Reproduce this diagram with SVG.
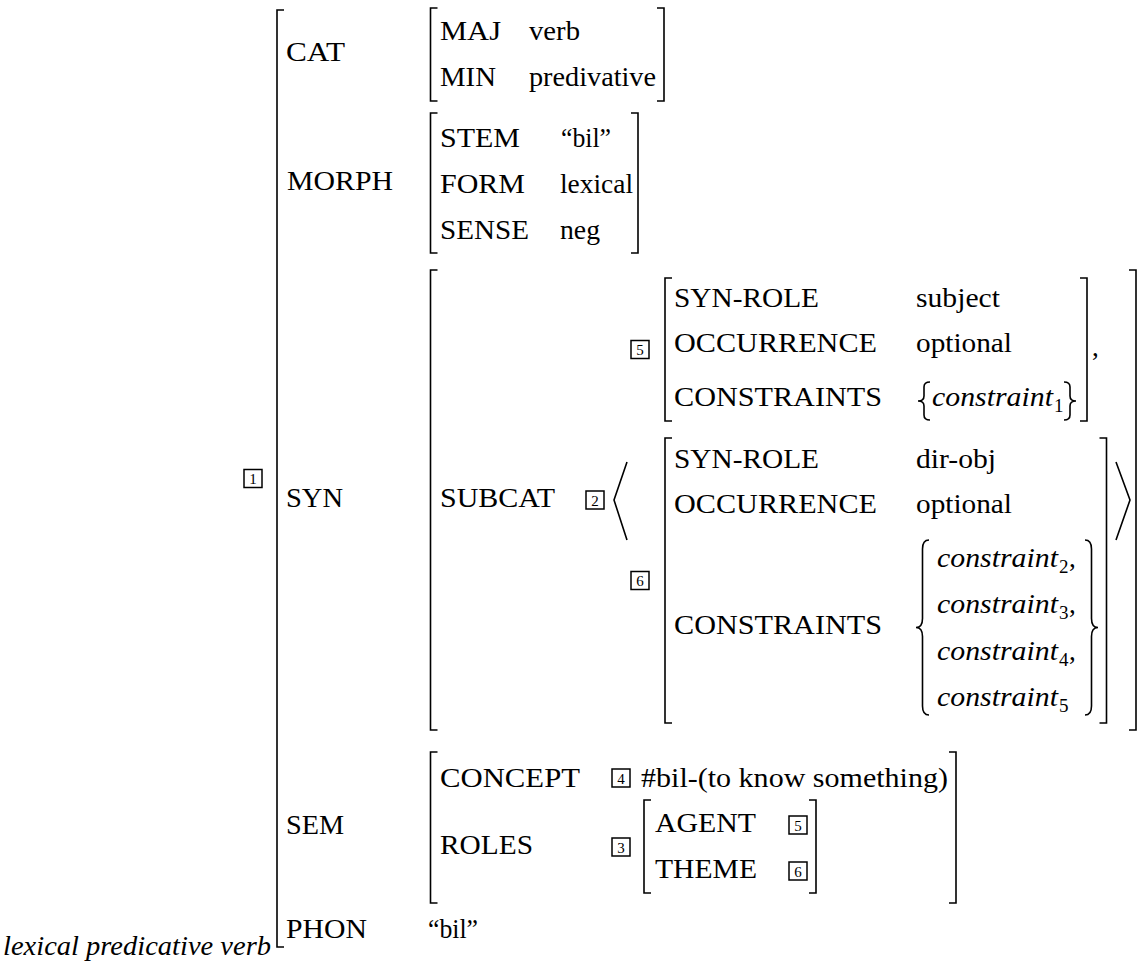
<svg xmlns="http://www.w3.org/2000/svg" width="1139" height="964" viewBox="0 0 1139 964">
<style>
text{font-family:'Liberation Serif','Times New Roman',serif;font-size:27px;fill:#000}
.i{font-style:italic}
.s{font-size:19px}
.n{font-size:15px;text-anchor:middle}
.b{fill:none;stroke:#000;stroke-width:1.6}
.x{fill:none;stroke:#000;stroke-width:1.5}
</style>
<rect width="1139" height="964" fill="#fff"/>
<g id="root">
<path class="b" d="M284,10 H277 V947 H284"/>
<rect class="x" x="244" y="469.5" width="18" height="18"/><text class="n" x="253" y="484">1</text>
<text class="i" x="3" y="955" textLength="268" lengthAdjust="spacingAndGlyphs">lexical predicative verb</text>
</g>
<g id="cat">
<text x="286" y="61" textLength="59" lengthAdjust="spacingAndGlyphs">CAT</text>
<path class="b" d="M437.5,8 H430.5 V101 H437.5 M657,8 H664 V101 H657"/>
<text x="440" y="40" textLength="61" lengthAdjust="spacingAndGlyphs">MAJ</text>
<text x="529" y="40" textLength="51" lengthAdjust="spacingAndGlyphs">verb</text>
<text x="440" y="86" textLength="56" lengthAdjust="spacingAndGlyphs">MIN</text>
<text x="529" y="86" textLength="127" lengthAdjust="spacingAndGlyphs">predivative</text>
</g>
<g id="morph">
<text x="287" y="190" textLength="106" lengthAdjust="spacingAndGlyphs">MORPH</text>
<path class="b" d="M437.5,113 H430.5 V253 H437.5 M631,113 H638 V253 H631"/>
<text x="440" y="147" textLength="80" lengthAdjust="spacingAndGlyphs">STEM</text>
<text x="561" y="147" textLength="50" lengthAdjust="spacingAndGlyphs">“bil”</text>
<text x="440" y="193" textLength="85" lengthAdjust="spacingAndGlyphs">FORM</text>
<text x="560" y="193" textLength="73" lengthAdjust="spacingAndGlyphs">lexical</text>
<text x="440" y="239" textLength="89" lengthAdjust="spacingAndGlyphs">SENSE</text>
<text x="560" y="239" textLength="40" lengthAdjust="spacingAndGlyphs">neg</text>
</g>
<g id="syn">
<text x="286" y="507" textLength="57" lengthAdjust="spacingAndGlyphs">SYN</text>
<path class="b" d="M437.5,270 H430.5 V730 H437.5 M1129,270 H1136 V730 H1129"/>
<text x="440" y="507" textLength="115" lengthAdjust="spacingAndGlyphs">SUBCAT</text>
<rect class="x" x="586" y="491" width="18" height="18"/><text class="n" x="595" y="505.5">2</text>
<path class="b" d="M627,462 L614,500 L627,540 M1116,462 L1130,500 L1116,540" stroke-width="1.4"/>
</g>
<g id="subj">
<rect class="x" x="631" y="340.5" width="18" height="18"/><text class="n" x="640" y="355">5</text>
<path class="b" d="M672,278 H665 V421 H672 M1080,278 H1087 V421 H1080"/>
<text x="674" y="307" textLength="145" lengthAdjust="spacingAndGlyphs">SYN-ROLE</text>
<text x="916" y="307" textLength="84" lengthAdjust="spacingAndGlyphs">subject</text>
<text x="674" y="352" textLength="203" lengthAdjust="spacingAndGlyphs">OCCURRENCE</text>
<text x="916" y="352" textLength="96" lengthAdjust="spacingAndGlyphs">optional</text>
<text x="674" y="406" textLength="208" lengthAdjust="spacingAndGlyphs">CONSTRAINTS</text>
<path class="b" d="M930,382 Q924,382 924,387 L924,396 Q924,401 918,401 Q924,401 924,406 L924,415 Q924,420 930,420 M1064,382 Q1070,382 1070,387 L1070,396 Q1070,401 1076,401 Q1070,401 1070,406 L1070,415 Q1070,420 1064,420"/>
<text class="i" x="932" y="406" textLength="121" lengthAdjust="spacingAndGlyphs">constraint</text>
<text class="s" x="1054" y="412">1</text>
<text x="1092" y="356">,</text>
</g>
<g id="dobj">
<rect class="x" x="631" y="571.5" width="18" height="18"/><text class="n" x="640" y="586">6</text>
<path class="b" d="M672,438 H665 V723 H672 M1099.5,438 H1106.5 V723 H1099.5"/>
<text x="674" y="468" textLength="145" lengthAdjust="spacingAndGlyphs">SYN-ROLE</text>
<text x="916" y="468" textLength="80" lengthAdjust="spacingAndGlyphs">dir-obj</text>
<text x="674" y="513" textLength="203" lengthAdjust="spacingAndGlyphs">OCCURRENCE</text>
<text x="916" y="513" textLength="96" lengthAdjust="spacingAndGlyphs">optional</text>
<text x="674" y="634" textLength="208" lengthAdjust="spacingAndGlyphs">CONSTRAINTS</text>
<path class="b" d="M929,540 Q922.5,540 922.5,549 L922.5,618.5 Q922.5,627.5 916,627.5 Q922.5,627.5 922.5,636.5 L922.5,706 Q922.5,715 929,715 M1085,540 Q1091.5,540 1091.5,549 L1091.5,618.5 Q1091.5,627.5 1098,627.5 Q1091.5,627.5 1091.5,636.5 L1091.5,706 Q1091.5,715 1085,715"/>
<text class="i" x="937" y="567" textLength="121" lengthAdjust="spacingAndGlyphs">constraint</text><text class="s" x="1059" y="573">2</text><text x="1069" y="567">,</text>
<text class="i" x="937" y="613" textLength="121" lengthAdjust="spacingAndGlyphs">constraint</text><text class="s" x="1059" y="619">3</text><text x="1069" y="613">,</text>
<text class="i" x="937" y="659.5" textLength="121" lengthAdjust="spacingAndGlyphs">constraint</text><text class="s" x="1059" y="665.5">4</text><text x="1069" y="659.5">,</text>
<text class="i" x="937" y="706" textLength="121" lengthAdjust="spacingAndGlyphs">constraint</text><text class="s" x="1059" y="712">5</text>
</g>
<g id="sem">
<text x="286" y="834" textLength="58" lengthAdjust="spacingAndGlyphs">SEM</text>
<path class="b" d="M437.5,752 H430.5 V903 H437.5 M949,752 H956 V903 H949"/>
<text x="440" y="787" textLength="140" lengthAdjust="spacingAndGlyphs">CONCEPT</text>
<rect class="x" x="612" y="769" width="18" height="18"/><text class="n" x="621" y="783.5">4</text>
<text x="641" y="787" textLength="307" lengthAdjust="spacingAndGlyphs">#bil-(to know something)</text>
<text x="440" y="854" textLength="93" lengthAdjust="spacingAndGlyphs">ROLES</text>
<rect class="x" x="612" y="838" width="18" height="18"/><text class="n" x="621" y="852.5">3</text>
</g>
<g id="roles">
<path class="b" d="M651,800 H644 V893 H651 M809,800 H816 V893 H809"/>
<text x="655" y="832" textLength="101" lengthAdjust="spacingAndGlyphs">AGENT</text>
<rect class="x" x="789" y="816" width="18" height="18"/><text class="n" x="798" y="830.5">5</text>
<text x="655" y="878" textLength="102" lengthAdjust="spacingAndGlyphs">THEME</text>
<rect class="x" x="789" y="862" width="18" height="18"/><text class="n" x="798" y="876.5">6</text>
</g>
<g id="phon">
<text x="286" y="938" textLength="81" lengthAdjust="spacingAndGlyphs">PHON</text>
<text x="428" y="938" textLength="50" lengthAdjust="spacingAndGlyphs">“bil”</text>
</g>
<g id="connectors"/>
</svg>
